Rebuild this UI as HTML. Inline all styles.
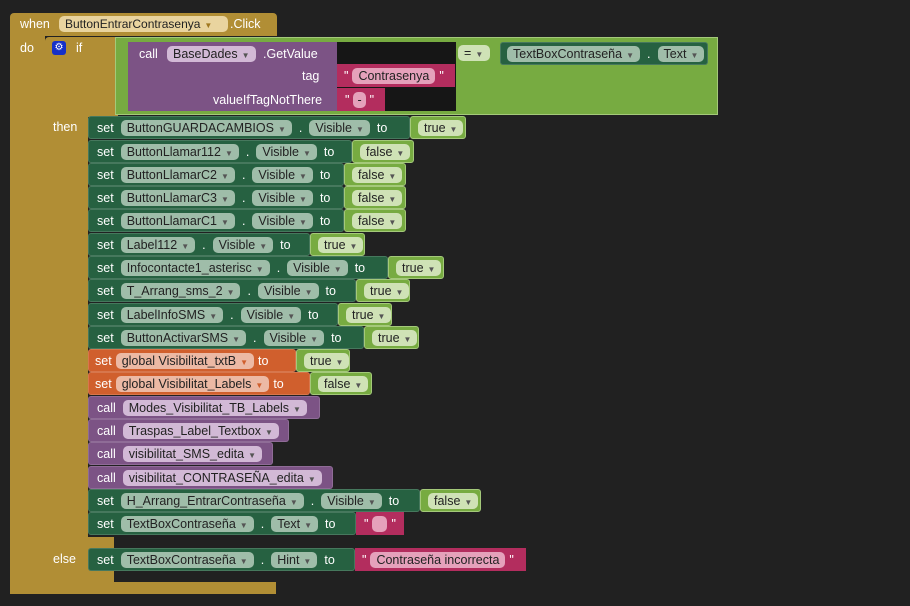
<!DOCTYPE html>
<html><head><meta charset="utf-8"><style>
body{margin:0;width:910px;height:606px;background:#212121;position:relative;overflow:hidden;font-family:"Liberation Sans",sans-serif;font-size:12.5px;color:#fff}
.a{position:absolute}
.g{background:#b18e35}
.row{position:absolute;left:88px;height:23px;display:flex}
.b{height:23px;display:flex;align-items:center;padding-left:8px;gap:7px;box-sizing:border-box;border:1px solid rgba(255,255,255,.15);border-radius:3px;white-space:nowrap;overflow:hidden}
.set{background:#266141}
.glob{background:#d05f2d}
.call{background:#7c5385}
.p{height:16px;line-height:16px;border-radius:5px;padding:0 6px;color:#222;white-space:nowrap}
.set .p{background:#9fbda9}
.glob .p{background:#ecb9a4}
.call .p{background:#d2b9d6}
.v{height:23px;display:flex;align-items:center;padding-left:7px;box-sizing:border-box;background:#77ab41;border:1px solid #a4c97a;border-radius:3px}
.v .p{background:#cfe2b6}
.t{background:#b32d5e;height:23px;display:flex;align-items:center;padding-left:10px;gap:4px;box-sizing:border-box}
.t .p{background:#e5a1bb}
.ar{font-size:8px;margin-left:4px;color:#555}
</style></head><body>
<!-- event block -->
<div class="a g" style="left:10px;top:13px;width:267px;height:23px;border-radius:4px 4px 0 0"></div>
<div class="a" style="left:20px;top:17px">when</div>
<div class="a p" style="left:59px;top:16px;background:#e9d49f;width:157px;font-size:12px">ButtonEntrarContrasenya<span class="ar" style="color:#a0781f">▼</span></div>
<div class="a" style="left:230px;top:17px">.Click</div>
<div class="a g" style="left:10px;top:35px;width:35px;height:559px"></div>
<div class="a g" style="left:10px;top:582px;width:266px;height:12px"></div>
<div class="a" style="left:20px;top:41px">do</div>
<!-- if block -->
<div class="a g" style="left:45px;top:37px;width:73px;height:80px;border-radius:4px 0 0 0"></div>
<div class="a g" style="left:45px;top:116px;width:43px;height:467px"></div>
<div class="a g" style="left:45px;top:537px;width:69px;height:46px"></div>
<div class="a" style="left:52px;top:41px;width:14px;height:14px;background:#1530c8;border-radius:3px;color:#fff;font-size:10px;text-align:center;line-height:14px">⚙</div>
<div class="a" style="left:76px;top:41px">if</div>
<div class="a" style="left:53px;top:120px">then</div>
<div class="a" style="left:53px;top:552px">else</div>
<!-- compare block -->
<div class="a" style="left:115px;top:37px;width:603px;height:78px;background:#77ab41;border:1px solid #a4c97a;box-sizing:border-box"></div>
<div class="a" style="left:337px;top:42px;width:119px;height:69px;background:#161616"></div>
<div class="a" style="left:128px;top:42px;width:209px;height:69px;background:#7c5385"></div>
<div class="a" style="left:139px;top:47px">call</div>
<div class="a p" style="left:167px;top:46px;background:#d2b9d6">BaseDades<span class="ar">▼</span></div>
<div class="a" style="left:263px;top:47px">.GetValue</div>
<div class="a" style="left:302px;top:69px">tag</div>
<div class="a" style="left:213px;top:93px">valueIfTagNotThere</div>
<div class="a t" style="left:337px;top:64px;width:118px;padding-left:7px"><span>"</span><span class="p">Contrasenya</span><span>"</span></div>
<div class="a t" style="left:337px;top:88px;width:48px;padding-left:8px"><span>"</span><span class="p" style="padding:0 4px">-</span><span>"</span></div>
<div class="a p" style="left:458px;top:45px;background:#cfe2b6;width:20px">=<span class="ar">▼</span></div>
<div class="a b set" style="left:500px;top:42px;width:208px;padding-left:6px"><span class="p">TextBoxContraseña<span class="ar">▼</span></span>.<span class="p">Text<span class="ar">▼</span></span></div>

<div class="row" style="top:116px"><div class="b set" style="width:322px">set<span class="p">ButtonGUARDACAMBIOS<span class="ar">▼</span></span>.<span class="p">Visible<span class="ar">▼</span></span>to</div><div class="v" style="width:56px"><span class="p">true<span class="ar">▼</span></span></div></div>
<div class="row" style="top:140px"><div class="b set" style="width:264px">set<span class="p">ButtonLlamar112<span class="ar">▼</span></span>.<span class="p">Visible<span class="ar">▼</span></span>to</div><div class="v" style="width:62px"><span class="p">false<span class="ar">▼</span></span></div></div>
<div class="row" style="top:163px"><div class="b set" style="width:256px">set<span class="p">ButtonLlamarC2<span class="ar">▼</span></span>.<span class="p">Visible<span class="ar">▼</span></span>to</div><div class="v" style="width:62px"><span class="p">false<span class="ar">▼</span></span></div></div>
<div class="row" style="top:186px"><div class="b set" style="width:256px">set<span class="p">ButtonLlamarC3<span class="ar">▼</span></span>.<span class="p">Visible<span class="ar">▼</span></span>to</div><div class="v" style="width:62px"><span class="p">false<span class="ar">▼</span></span></div></div>
<div class="row" style="top:209px"><div class="b set" style="width:256px">set<span class="p">ButtonLlamarC1<span class="ar">▼</span></span>.<span class="p">Visible<span class="ar">▼</span></span>to</div><div class="v" style="width:62px"><span class="p">false<span class="ar">▼</span></span></div></div>
<div class="row" style="top:233px"><div class="b set" style="width:222px">set<span class="p">Label112<span class="ar">▼</span></span>.<span class="p">Visible<span class="ar">▼</span></span>to</div><div class="v" style="width:55px"><span class="p">true<span class="ar">▼</span></span></div></div>
<div class="row" style="top:256px"><div class="b set" style="width:300px">set<span class="p">Infocontacte1_asterisc<span class="ar">▼</span></span>.<span class="p">Visible<span class="ar">▼</span></span>to</div><div class="v" style="width:56px"><span class="p">true<span class="ar">▼</span></span></div></div>
<div class="row" style="top:279px"><div class="b set" style="width:268px">set<span class="p">T_Arrang_sms_2<span class="ar">▼</span></span>.<span class="p">Visible<span class="ar">▼</span></span>to</div><div class="v" style="width:54px"><span class="p">true<span class="ar">▼</span></span></div></div>
<div class="row" style="top:303px"><div class="b set" style="width:250px">set<span class="p">LabelInfoSMS<span class="ar">▼</span></span>.<span class="p">Visible<span class="ar">▼</span></span>to</div><div class="v" style="width:54px"><span class="p">true<span class="ar">▼</span></span></div></div>
<div class="row" style="top:326px"><div class="b set" style="width:276px">set<span class="p">ButtonActivarSMS<span class="ar">▼</span></span>.<span class="p">Visible<span class="ar">▼</span></span>to</div><div class="v" style="width:55px"><span class="p">true<span class="ar">▼</span></span></div></div>
<div class="row" style="top:349px"><div class="b glob" style="width:208px;gap:4px;padding-left:6px">set<span class="p">global Visibilitat_txtB<span class="ar" style="color:#d05f2d">▼</span></span>to</div><div class="v" style="width:54px"><span class="p">true<span class="ar">▼</span></span></div></div>
<div class="row" style="top:372px"><div class="b glob" style="width:222px;gap:4px;padding-left:6px">set<span class="p">global Visibilitat_Labels<span class="ar" style="color:#d05f2d">▼</span></span>to</div><div class="v" style="width:62px"><span class="p">false<span class="ar">▼</span></span></div></div>
<div class="row" style="top:396px"><div class="b call" style="width:232px">call<span class="p">Modes_Visibilitat_TB_Labels<span class="ar">▼</span></span></div></div>
<div class="row" style="top:419px"><div class="b call" style="width:201px">call<span class="p">Traspas_Label_Textbox<span class="ar">▼</span></span></div></div>
<div class="row" style="top:442px"><div class="b call" style="width:185px">call<span class="p">visibilitat_SMS_edita<span class="ar">▼</span></span></div></div>
<div class="row" style="top:466px"><div class="b call" style="width:245px">call<span class="p">visibilitat_CONTRASEÑA_edita<span class="ar">▼</span></span></div></div>
<div class="row" style="top:489px"><div class="b set" style="width:332px">set<span class="p">H_Arrang_EntrarContraseña<span class="ar">▼</span></span>.<span class="p">Visible<span class="ar">▼</span></span>to</div><div class="v" style="width:61px"><span class="p">false<span class="ar">▼</span></span></div></div>
<div class="row" style="top:512px"><div class="b set" style="width:268px">set<span class="p">TextBoxContraseña<span class="ar">▼</span></span>.<span class="p">Text<span class="ar">▼</span></span>to</div><div class="t" style="width:48px;padding-left:8px"><span>"</span><span class="p" style="width:3px"></span><span>"</span></div></div>
<div class="row" style="top:548px"><div class="b set" style="width:267px">set<span class="p">TextBoxContraseña<span class="ar">▼</span></span>.<span class="p">Hint<span class="ar">▼</span></span>to</div><div class="t" style="width:171px;padding-left:7px"><span>"</span><span class="p">Contraseña incorrecta</span><span>"</span></div></div>
</body></html>
